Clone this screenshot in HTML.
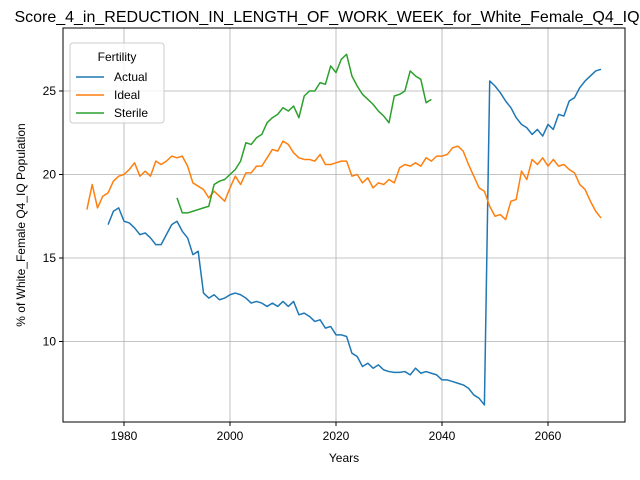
<!DOCTYPE html>
<html><head><meta charset="utf-8"><style>
body{margin:0;background:#fff}
svg{display:block;font-family:"Liberation Sans","DejaVu Sans",sans-serif}
</style></head><body>
<svg id="chart" width="640" height="480" viewBox="0 0 640 480">
<rect width="640" height="480" fill="#fff"/>
<text x="327" y="22" text-anchor="middle" font-size="16">Score_4_in_REDUCTION_IN_LENGTH_OF_WORK_WEEK_for_White_Female_Q4_IQ</text>
<g id="grid"></g>
<g id="series"></g>
<rect x="63" y="28" width="562" height="394" fill="none" stroke="#000" stroke-width="1"/>
<g id="ticks"></g>
<text x="344" y="462" text-anchor="middle" font-size="12">Years</text>
<text transform="translate(25,225) rotate(-90)" text-anchor="middle" font-size="12">% of White_Female Q4_IQ Population</text>
<g>
<rect x="70" y="43" width="94" height="80" rx="3" fill="#fff" fill-opacity="0.8" stroke="#ccc"/>
<text x="117" y="61" text-anchor="middle" font-size="12">Fertility</text>
<g><line x1="76" y1="77" x2="104" y2="77" stroke="#1f77b4" stroke-width="1.5"/><text x="114" y="81" font-size="12">Actual</text></g>
<g><line x1="76" y1="95" x2="104" y2="95" stroke="#ff7f0e" stroke-width="1.5"/><text x="114" y="99" font-size="12">Ideal</text></g>
<g><line x1="76" y1="113" x2="104" y2="113" stroke="#2ca02c" stroke-width="1.5"/><text x="114" y="117" font-size="12">Sterile</text></g>
</g>
</svg>
<script>
const xTicks=[1980,2000,2020,2040,2060];
const yTicks=[10,15,20,25];
const actualStart=1977;
const actualValues=[17.0,17.8,18.0,17.2,17.1,16.8,16.4,16.5,16.2,15.8,15.8,16.4,17.0,17.2,16.6,16.2,15.2,15.4,12.9,12.6,12.8,12.5,12.6,12.8,12.9,12.8,12.6,12.3,12.4,12.3,12.1,12.3,12.1,12.4,12.1,12.4,11.6,11.7,11.5,11.2,11.3,10.8,10.9,10.4,10.4,10.3,9.3,9.1,8.5,8.7,8.4,8.6,8.3,8.2,8.15,8.15,8.2,8.0,8.4,8.1,8.2,8.1,8.0,7.7,7.7,7.6,7.5,7.4,7.2,6.8,6.6,6.2,25.6,25.3,24.9,24.4,24.0,23.4,23.0,22.8,22.4,22.7,22.3,23.0,22.7,23.6,23.5,24.4,24.6,25.2,25.6,25.9,26.2,26.3];
const idealStart=1973;
const idealValues=[17.9,19.4,18.0,18.7,18.9,19.6,19.9,20.0,20.3,20.7,19.9,20.2,19.9,20.8,20.6,20.8,21.1,21.0,21.1,20.5,19.5,19.3,19.1,18.6,19.0,18.7,18.4,19.2,19.9,19.4,20.1,20.1,20.5,20.5,21.0,21.5,21.4,22.0,21.8,21.3,21.0,20.9,20.9,20.8,21.2,20.6,20.6,20.7,20.8,20.8,19.9,20.0,19.5,19.8,19.2,19.5,19.4,19.7,19.5,20.4,20.6,20.5,20.7,20.5,21.0,20.8,21.1,21.1,21.2,21.6,21.7,21.4,20.6,19.9,19.2,19.0,18.1,17.5,17.6,17.3,18.4,18.5,20.2,19.7,20.9,20.6,21.0,20.5,20.9,20.5,20.6,20.3,20.1,19.4,19.1,18.4,17.8,17.4];
const sterileStart=1990;
const sterileValues=[18.6,17.7,17.7,17.8,17.9,18.0,18.1,19.4,19.6,19.7,20.0,20.3,20.8,21.9,21.8,22.2,22.4,23.1,23.4,23.6,24.0,23.8,24.1,23.4,24.7,25.0,25.0,25.5,25.4,26.5,26.1,26.9,27.2,25.9,25.3,24.8,24.5,24.2,23.8,23.5,23.1,24.7,24.8,25.0,26.2,25.9,25.7,24.3,24.5];
const NS='http://www.w3.org/2000/svg';
function xs(yr){return 124+(yr-1980)*5.3;}
function ys(v){return 91+(25-v)*16.7;}
const grid=document.getElementById('grid'),ticks=document.getElementById('ticks'),series=document.getElementById('series');
xTicks.forEach(t=>{
 const l=document.createElementNS(NS,'line');
 
 
 l.setAttribute('x1',xs(t));l.setAttribute('x2',xs(t));l.setAttribute('y1',28);l.setAttribute('y2',422);l.setAttribute('stroke','#b0b0b0');l.setAttribute('stroke-width','0.8');grid.appendChild(l);
 const k=document.createElementNS(NS,'line');
 
 
 k.setAttribute('x1',xs(t));k.setAttribute('x2',xs(t));k.setAttribute('y1',422);k.setAttribute('y2',426);k.setAttribute('stroke','#000');ticks.appendChild(k);
 const tx=document.createElementNS(NS,'text');
 
 
 tx.setAttribute('x',xs(t));tx.setAttribute('y',440);tx.setAttribute('text-anchor','middle');tx.setAttribute('font-size','12');tx.textContent=t;ticks.appendChild(tx);
});
yTicks.forEach(t=>{
 const l=document.createElementNS(NS,'line');
 
 
 l.setAttribute('x1',63);l.setAttribute('x2',625);l.setAttribute('y1',ys(t));l.setAttribute('y2',ys(t));l.setAttribute('stroke','#b0b0b0');l.setAttribute('stroke-width','0.8');grid.appendChild(l);
 const k=document.createElementNS(NS,'line');
 
 
 k.setAttribute('x1',59);k.setAttribute('x2',63);k.setAttribute('y1',ys(t));k.setAttribute('y2',ys(t));k.setAttribute('stroke','#000');ticks.appendChild(k);
 const tx=document.createElementNS(NS,'text');
 
 
 tx.setAttribute('x',56);tx.setAttribute('y',ys(t)+4);tx.setAttribute('text-anchor','end');tx.setAttribute('font-size','12');tx.textContent=t;ticks.appendChild(tx);
});
function draw(start,vals,color,name){
 const p=document.createElementNS(NS,'polyline');
 
 
 p.setAttribute('points',vals.map((v,i)=>xs(start+i)+','+ys(v)).join(' '));
 p.setAttribute('fill','none');p.setAttribute('stroke',color);p.setAttribute('stroke-width','1.5');p.setAttribute('stroke-linejoin','round');
 series.appendChild(p);
}
draw(actualStart,actualValues,'#1f77b4','actual-line');
draw(idealStart,idealValues,'#ff7f0e','ideal-line');
draw(sterileStart,sterileValues,'#2ca02c','sterile-line');
</script>
</body></html>
